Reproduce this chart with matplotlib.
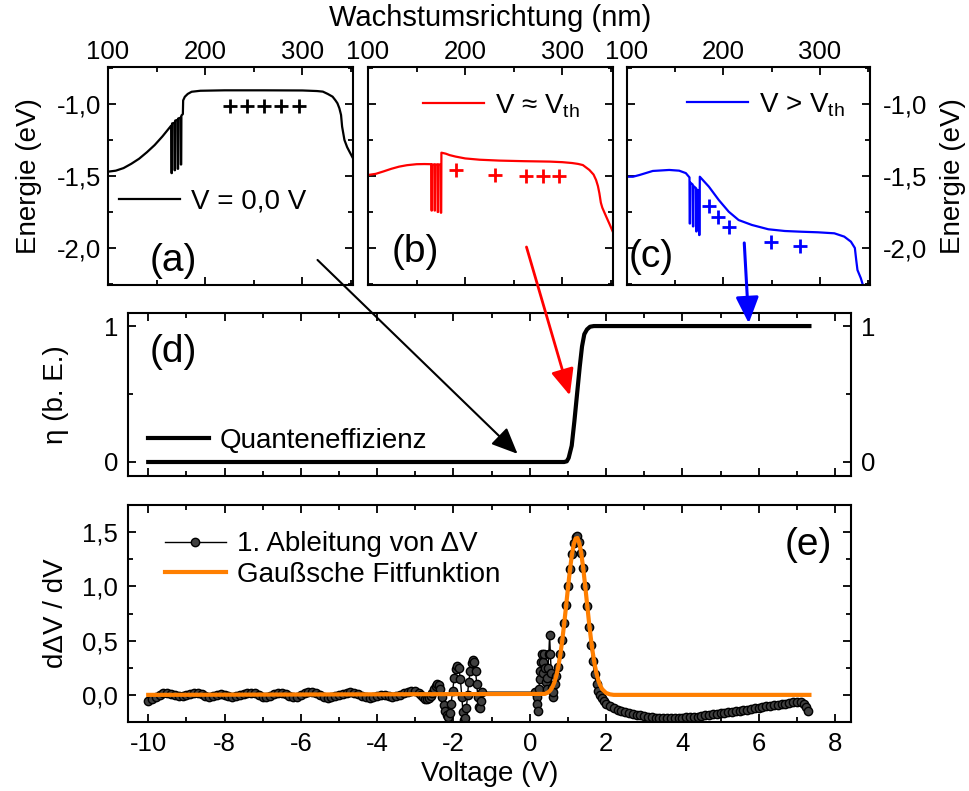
import numpy as np
import matplotlib
matplotlib.use("Agg")
import matplotlib.pyplot as plt
from matplotlib.patches import ConnectionPatch
from matplotlib.ticker import MultipleLocator

plt.rcParams["font.family"] = ["Liberation Sans", "DejaVu Sans"]
plt.rcParams["axes.linewidth"] = 1.5
plt.rcParams["axes.unicode_minus"] = False

# band diagrams: position (nm) / energy (eV)
pos_a = [100, 108, 116, 124, 132, 140, 148, 156, 165.0,
         165.3, 165.7, 165.9, 168.3, 168.5, 168.9, 169.1, 171.5, 171.7, 172.1,
         172.3, 174.7, 174.9, 175.3, 175.5, 177.0, 177.3, 179, 182, 186, 195,
         220, 260, 300, 315, 321, 326, 331, 334, 336, 338, 339.7, 340.8,
         343.2, 346, 348.3, 352]
energy_a = [-1.470, -1.463, -1.445, -1.415, -1.380, -1.335, -1.285, -1.225, -1.150,
            -1.48, -1.48, -1.135, -1.13, -1.46, -1.46, -1.115, -1.11, -1.45, -1.45,
            -1.10, -1.095, -1.42, -1.42, -1.08, -1.07, -0.975, -0.950, -0.930, -0.915, -0.908,
            -0.905, -0.905, -0.906, -0.910, -0.914, -0.930, -0.949, -0.975, -0.995, -1.030, -1.076, -1.157,
            -1.250, -1.300, -1.330, -1.377]

pos_b = [100, 108, 116, 124, 132, 140, 150, 158, 165.0,
         165.3, 165.7, 165.9, 168.3, 168.5, 168.9, 169.1, 171.5, 171.7, 172.1,
         172.3, 174.7, 174.9, 175.3, 175.5, 180, 184, 190, 200, 215, 235, 260,
         287, 300, 310, 316, 321, 327.7, 332, 334.6, 336.5, 338, 339.5, 341,
         345, 348.5, 352]
energy_b = [-1.493, -1.485, -1.468, -1.450, -1.435, -1.425, -1.418, -1.417, -1.418,
            -1.74, -1.74, -1.42, -1.42, -1.74, -1.74, -1.42, -1.42, -1.75, -1.75,
            -1.42, -1.42, -1.755, -1.755, -1.338, -1.345, -1.355, -1.365, -1.378, -1.387, -1.393, -1.397,
            -1.400, -1.404, -1.410, -1.416, -1.424, -1.458, -1.490, -1.528, -1.570, -1.620, -1.685, -1.720,
            -1.782, -1.835, -1.890]

pos_c = [100, 106.2, 113, 126.7, 143.8, 154.1, 161, 164.8,
         165.0, 165.4, 165.6, 168.2, 168.4, 168.8, 169.0, 171.6, 171.8, 172.2,
         172.4, 174.6, 174.8, 175.2, 175.5, 184.9, 195.2, 205.5, 215.8, 229.5,
         246.6, 263.7, 280.8, 298, 315, 325.3, 332.2, 336.3, 337.7, 339, 342.5, 345.2]
energy_c = [-1.505, -1.505, -1.493, -1.465, -1.458, -1.463, -1.480, -1.510,
            -1.83, -1.83, -1.545, -1.56, -1.85, -1.85, -1.57, -1.585, -1.885, -1.885,
            -1.595, -1.60, -1.91, -1.91, -1.505, -1.574, -1.667, -1.748, -1.806, -1.840,
            -1.870, -1.882, -1.887, -1.891, -1.898, -1.921, -1.956, -2.000, -2.083, -2.153, -2.210, -2.270]

# positive charges drawn as "+"
plus_pos_a = [225.0, 242.8, 260.6, 278.4, 296.2]
plus_en_a = [-1.012, -1.012, -1.012, -1.012, -1.012]
plus_pos_b = [190.8, 230.8, 262.7, 279.8, 296.9]
plus_en_b = [-1.458, -1.493, -1.500, -1.500, -1.500]
plus_pos_c = [185.1, 194.7, 205.7, 249.6, 279.4]
plus_en_c = [-1.706, -1.782, -1.852, -1.961, -1.984]

band_labels = ["V = 0,0 V", "V ≈ V$_\\mathregular{th}$", "V > V$_\\mathregular{th}$"]
band_yticks = [-1.0, -1.5, -2.0]
band_yticklabels = ["-1,0", "-1,5", "-2,0"]
band_xticks = [100, 200, 300]

# quantum efficiency vs voltage
qe_v = [-10.0, 0.90, 0.97, 1.02, 1.10, 1.17, 1.24, 1.31, 1.37, 1.43, 1.50, 1.58, 1.68, 7.33]
qe_eta = [0.0, 0.0, 0.005, 0.03, 0.12, 0.30, 0.50, 0.70, 0.85, 0.94, 0.975, 0.995, 1.0, 1.0]

# first derivative of Delta V
sweep_v1 = np.linspace(-10.0, -2.9, 72)
sweep_d1 = [-0.06, -0.04, -0.02, 0.0, 0.015, 0.02, 0.01, 0.0, -0.01, -0.01,
            0.0, 0.01, 0.015, 0.015, 0.005, -0.01, -0.015, -0.01, 0.0, 0.005,
            0.0, -0.01, -0.015, -0.01, 0.0, 0.01, 0.015, 0.02, 0.015, 0.0,
            -0.015, -0.02, -0.01, 0.005, 0.02, 0.02, 0.005, -0.01, -0.02, -0.015,
            0.0, 0.015, 0.025, 0.03, 0.02, 0.0, -0.015, -0.025, -0.02, -0.01,
            0.0, 0.01, 0.02, 0.025, 0.02, 0.005, -0.01, -0.02, -0.025, -0.02,
            -0.01, -0.005, 0.0, -0.01, -0.015, -0.01, 0.0, 0.02, 0.03, 0.035,
            0.035, 0.02]
osc_v = [-2.85, -2.80, -2.75, -2.70, -2.65, -2.60, -2.55, -2.50, -2.46, -2.42,
         -2.38, -2.34, -2.30, -2.26, -2.22, -2.18, -2.14, -2.10, -2.06, -2.02,
         -1.98, -1.94, -1.90, -1.86, -1.82, -1.78, -1.75, -1.72, -1.69, -1.66,
         -1.63, -1.60, -1.56, -1.52, -1.48, -1.45, -1.42, -1.39, -1.36, -1.33,
         -1.30, -1.27, -1.24, 0.15]
osc_d1 = [0.0, -0.02, -0.035, -0.04, -0.03, -0.01, 0.02, 0.05, 0.08, 0.10,
          0.09, 0.05, -0.02, -0.09, -0.15, -0.19, -0.20, -0.17, -0.08, 0.04,
          0.16, 0.24, 0.27, 0.25, 0.15, -0.02, -0.16, -0.23, -0.21, -0.12,
          0.0, 0.12, 0.22, 0.29, 0.32, 0.30, 0.22, 0.10, -0.02, -0.11,
          -0.12, -0.06, 0.025, 0.025]
onset_v = [0.18, 0.20, 0.22, 0.24, 0.26, 0.28, 0.30, 0.32, 0.34, 0.36,
           0.38, 0.40, 0.42, 0.44, 0.46, 0.48, 0.50, 0.52, 0.54, 0.56,
           0.58, 0.60, 0.62]
onset_d1 = [-0.02, -0.08, -0.15, 0.05, 0.15, 0.22, 0.30, 0.38, 0.30, 0.20,
            0.38, 0.25, 0.12, 0.05, 0.16, 0.25, 0.38, 0.55, 0.38, 0.20,
            0.06, -0.02, 0.03]
peak_v = [0.65, 0.70, 0.75, 0.80, 0.85, 0.90, 0.95, 1.00, 1.05, 1.10,
          1.15, 1.20, 1.25, 1.30, 1.35, 1.40, 1.45, 1.50, 1.55, 1.60,
          1.65, 1.70, 1.75, 1.80, 1.85, 1.90, 1.95, 2.00]
peak_d1 = [0.10, 0.17, 0.26, 0.38, 0.51, 0.66, 0.83, 1.00, 1.16, 1.30,
           1.40, 1.455, 1.46, 1.41, 1.31, 1.17, 1.00, 0.82, 0.63, 0.46,
           0.31, 0.19, 0.10, 0.04, 0.0, -0.03, -0.06, -0.08]
sweep_v2 = np.linspace(2.1, 7.1, 51)
sweep_d2 = [-0.10, -0.12, -0.135, -0.145, -0.155, -0.165, -0.175, -0.185, -0.19, -0.195,
            -0.2, -0.205, -0.21, -0.21, -0.215, -0.215, -0.215, -0.21, -0.21, -0.21,
            -0.205, -0.205, -0.2, -0.2, -0.195, -0.19, -0.185, -0.18, -0.175, -0.17,
            -0.165, -0.16, -0.155, -0.15, -0.145, -0.14, -0.135, -0.13, -0.125, -0.12,
            -0.11, -0.105, -0.10, -0.095, -0.09, -0.085, -0.08, -0.075, -0.07, -0.065,
            -0.065]
end_v = [7.2, 7.25, 7.3]
end_d1 = [-0.08, -0.11, -0.15]

deriv_v = np.concatenate([sweep_v1, osc_v, onset_v, peak_v, sweep_v2, end_v])
deriv_d1 = np.concatenate([sweep_d1, osc_d1, onset_d1, peak_d1, sweep_d2, end_d1])

# gaussian fit curve
fit_v = [-10.0, 0.40, 0.50, 0.55, 0.60, 0.65, 0.70, 0.75, 0.80, 0.85, 0.90,
         0.95, 1.00, 1.05, 1.10, 1.15, 1.20, 1.25, 1.30, 1.35, 1.40,
         1.45, 1.50, 1.55, 1.60, 1.65, 1.70, 1.75, 1.80, 1.85, 1.90,
         2.00, 2.10, 2.20, 7.33]
fit_d1 = [0.0, 0.009, 0.028, 0.047, 0.077, 0.120, 0.182, 0.264, 0.369, 0.498, 0.648,
          0.812, 0.980, 1.141, 1.280, 1.383, 1.440, 1.446, 1.398, 1.304, 1.171,
          1.014, 0.846, 0.680, 0.527, 0.393, 0.283, 0.196, 0.131, 0.085, 0.052,
          0.018, 0.005, 0.0, 0.0]

volt_ticks = [-10, -8, -6, -4, -2, 0, 2, 4, 6, 8]
deriv_yticks = [0.0, 0.5, 1.0, 1.5]
deriv_yticklabels = ["0,0", "0,5", "1,0", "1,5"]

W, H = 969, 791
fig = plt.figure(figsize=(W / 100, H / 100), dpi=100)

TICK = 18.5
LAB = 20
LEG = 20
PANEL = 28


def axes_px(l, t, r, b):
    return fig.add_axes([l / W, 1 - b / H, (r - l) / W, (b - t) / H])


def style_ticks(ax):
    ax.tick_params(which="both", direction="in", top=True, right=True,
                   labelsize=TICK, width=1.3)
    ax.tick_params(which="major", length=6)
    ax.tick_params(which="minor", length=3.5)


band_axes = [axes_px(108, 67, 353, 285), axes_px(368, 67, 613, 285), axes_px(627, 67, 870, 285)]
band_data = [(pos_a, energy_a, plus_pos_a, plus_en_a, "black"),
             (pos_b, energy_b, plus_pos_b, plus_en_b, "#ff0000"),
             (pos_c, energy_c, plus_pos_c, plus_en_c, "#0000ff")]
leg_anchor = [(0.045, 0.381), (0.225, 0.822), (0.247, 0.826)]
panel_pos = [(0.17, 0.11, "(a)"), (0.095, 0.15, "(b)"), (0.005, 0.13, "(c)")]

for i, ax in enumerate(band_axes):
    x, e, px, pe, col = band_data[i]
    ax.plot(x, e, color=col, lw=1.6, label=band_labels[i])
    ax.plot(px, pe, ls="none", marker="+", ms=10, mew=2, color=col)
    ax.set_xlim(100, 352)
    ax.set_ylim(-2.257, -0.743)
    ax.set_xticks(band_xticks)
    ax.xaxis.set_minor_locator(MultipleLocator(50))
    ax.set_yticks(band_yticks)
    ax.set_yticklabels(band_yticklabels)
    ax.yaxis.set_minor_locator(MultipleLocator(0.25))
    style_ticks(ax)
    ax.tick_params(axis="x", labeltop=True, labelbottom=False, pad=2)
    ax.tick_params(axis="y", labelleft=(i == 0), labelright=(i == 2),
                   pad=(9 if i == 2 else 5))
    ax.legend(loc="center left", bbox_to_anchor=leg_anchor[i], frameon=False,
              fontsize=LEG, handlelength=2.2, handletextpad=0.4,
              borderpad=0, borderaxespad=0)
    lx, ly, txt = panel_pos[i]
    ax.text(lx, ly, txt, transform=ax.transAxes, fontsize=PANEL,
            ha="left", va="center")

band_axes[0].set_ylabel("Energie (eV)", fontsize=LAB)
band_axes[0].yaxis.set_label_coords(-0.27, 0.5)
band_axes[2].yaxis.set_label_position("right")
band_axes[2].set_ylabel("Energie (eV)", fontsize=LAB, rotation=90)
band_axes[2].yaxis.set_label_coords(1.29, 0.5)
fig.text(490 / W, 1 - 18 / H, "Wachstumsrichtung (nm)", fontsize=21,
         ha="center", va="center")

# quantum efficiency
ax_d = axes_px(128, 313, 851, 476)
ax_d.plot(qe_v, qe_eta, color="black", lw=3, label="Quanteneffizienz")
ax_d.set_xlim(-10.53, 8.42)
ax_d.set_ylim(-0.103, 1.096)
ax_d.set_xticks(volt_ticks)
ax_d.xaxis.set_minor_locator(MultipleLocator(1))
ax_d.set_yticks([0, 1])
ax_d.yaxis.set_minor_locator(MultipleLocator(0.5))
style_ticks(ax_d)
ax_d.tick_params(axis="x", labelbottom=False)
ax_d.tick_params(axis="y", labelleft=True, labelright=True, pad=7)
ax_d.set_ylabel("η (b. E.)", fontsize=LAB)
ax_d.yaxis.set_label_coords(-0.082, 0.5)
ax_d.legend(loc="center left", bbox_to_anchor=(0.027, 0.215), frameon=False,
            fontsize=LEG, handlelength=2.2, handletextpad=0.4,
            borderpad=0, borderaxespad=0)
ax_d.text(0.03, 0.76, "(d)", transform=ax_d.transAxes, fontsize=PANEL,
          ha="left", va="center")

# derivative and gaussian fit
ax_e = axes_px(128, 505, 851, 722)
ax_e.plot(deriv_v, deriv_d1, color="black", lw=1, marker="o", ms=6,
          mfc="0.25", mec="black", mew=1, label="1. Ableitung von ΔV", zorder=2)
ax_e.plot(fit_v, fit_d1, color="#ff7f00", lw=3, label="Gaußsche Fitfunktion", zorder=3)
ax_e.set_xlim(-10.53, 8.42)
ax_e.set_ylim(-0.25, 1.75)
ax_e.set_xticks(volt_ticks)
ax_e.xaxis.set_minor_locator(MultipleLocator(1))
ax_e.set_yticks(deriv_yticks)
ax_e.set_yticklabels(deriv_yticklabels)
ax_e.yaxis.set_minor_locator(MultipleLocator(0.25))
style_ticks(ax_e)
ax_e.tick_params(axis="both", pad=7)
ax_e.set_xlabel("Voltage (V)", fontsize=LAB)
ax_e.set_ylabel("dΔV / dV", fontsize=LAB)
ax_e.yaxis.set_label_coords(-0.082, 0.5)
ax_e.legend(loc="center left", bbox_to_anchor=(0.051, 0.749), frameon=False,
            fontsize=LEG, handlelength=2.2, handletextpad=0.4, labelspacing=0.15,
            borderpad=0, borderaxespad=0)
ax_e.text(0.974, 0.816, "(e)", transform=ax_e.transAxes, fontsize=PANEL,
          ha="right", va="center")

# arrows from the band diagrams to the efficiency curve
arrows = [((315.5, -2.083), band_axes[0], (-0.32, 0.06), "black", 1.5),
          ((263.0, -1.993), band_axes[1], (1.05, 0.49), "#ff0000", 2.0),
          ((221.6, -1.965), band_axes[2], (5.74, 1.02), "#0000ff", 2.2)]
for start, ax_from, end, col, lw in arrows:
    con = ConnectionPatch(xyA=start, coordsA=ax_from.transData,
                          xyB=end, coordsB=ax_d.transData,
                          arrowstyle="-|>,head_length=1.6,head_width=0.7",
                          mutation_scale=10, color=col, lw=lw,
                          shrinkA=0, shrinkB=0, zorder=10)
    fig.add_artist(con)

fig.savefig("out.png", dpi=100)
